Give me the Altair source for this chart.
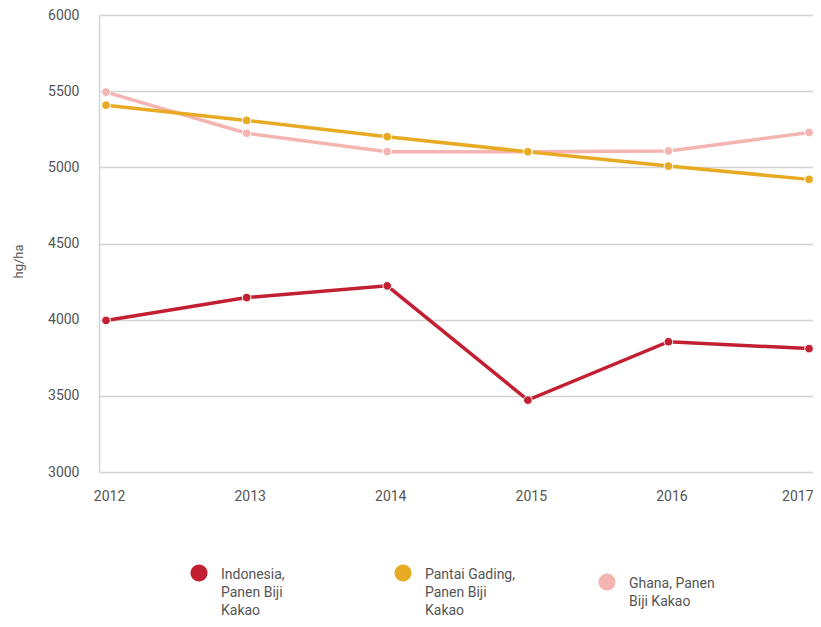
import altair as alt
import pandas as pd

years = [2012, 2013, 2014, 2015, 2016, 2017]
indonesia = [3995, 4145, 4222, 3472, 3855, 3810]
pantai_gading = [5408, 5308, 5201, 5102, 5008, 4921]
ghana = [5494, 5224, 5103, 5103, 5107, 5229]

series_names = [
    "Indonesia,\nPanen Biji\nKakao",
    "Pantai Gading,\nPanen Biji\nKakao",
    "Ghana, Panen\nBiji Kakao",
]
series_colors = ["#C21F32", "#E8AA22", "#F4B4B1"]
y_ticks = [3000, 3500, 4000, 4500, 5000, 5500, 6000]

rows = []
# draw order: Ghana beneath Pantai Gading
for name, vals in [(series_names[2], ghana), (series_names[1], pantai_gading), (series_names[0], indonesia)]:
    for yr, v in zip(years, vals):
        rows.append({"year": yr, "value": v, "series": name})
df = pd.DataFrame(rows)

font = "Roboto"
text_color = "#555555"

# circle symbol nudged down so that it lines up with the first label line
legend_symbol = "M-1,0.6A1,1,0,1,0,1,0.6A1,1,0,1,0,-1,0.6Z"

chart = alt.Chart(df).mark_line(
    strokeWidth=3.5,
    point=alt.OverlayMarkDef(filled=True, size=75, stroke="white", strokeWidth=1, opacity=1),
).encode(
    x=alt.X("year:Q",
            scale=alt.Scale(domain=[2011.95, 2017.028], nice=False, zero=False),
            axis=alt.Axis(values=years, format="d", title=None, grid=False, domain=False,
                          ticks=False, labelPadding=17, labelFontSize=14,
                          labelColor=text_color, labelFont=font, labelFlush=False,
                          labelAlign={"condition": {"test": "datum.value == 2017", "value": "right"},
                                      "value": "center"},
                          labelOffset={"condition": {"test": "datum.value == 2017", "value": 4},
                                       "value": 3})),
    y=alt.Y("value:Q",
            scale=alt.Scale(domain=[3000, 6000], nice=False, zero=False),
            axis=alt.Axis(values=y_ticks, format="d", title="hg/ha", grid=True,
                          gridColor="#d4d4d4", gridWidth=1.5, domain=True,
                          domainColor="#d4d4d4", domainWidth=1.5,
                          ticks=False, labelPadding=20, labelFontSize=14,
                          labelColor=text_color, labelFont=font,
                          titleFont=font, titleFontSize=13, titleFontWeight="normal",
                          titleColor=text_color, titleAngle=-90, titleX=-81, titleY=246,
                          titleAlign="center", titleBaseline="middle")),
    color=alt.Color("series:N",
                    scale=alt.Scale(domain=series_names, range=series_colors),
                    legend=alt.Legend(title=None, orient="none", legendX=91, legendY=544,
                                      columns=3, columnPadding=83, gridAlign="all",
                                      symbolType=legend_symbol, symbolSize=290,
                                      symbolStrokeWidth=0, symbolOpacity=1,
                                      labelFontSize=14, labelFont=font,
                                      labelColor=text_color, labelOffset=13,
                                      labelBaseline="top", labelLimit=200,
                                      labelExpr="split(datum.label, '\\n')")),
).properties(
    width=714,
    height=457,
    autosize=alt.AutoSizeParams(type="none"),
    padding={"left": 91, "top": 7, "right": 0, "bottom": 147},
).configure_view(stroke=None).configure(style={"guide-label": {"lineHeight": 18}})

chart.save("out.html", embed_options={"renderer": "svg", "actions": False})
